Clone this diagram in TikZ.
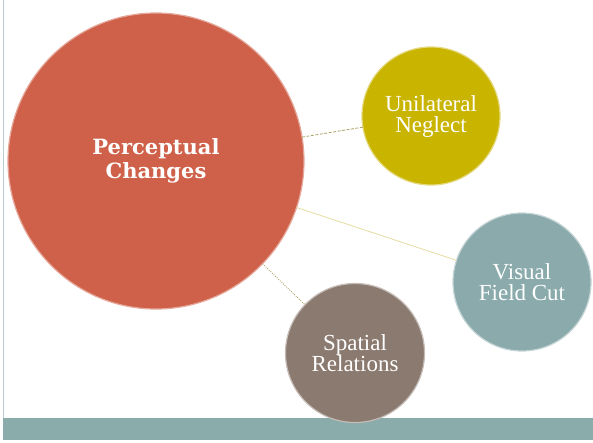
\documentclass[tikz,border=0pt]{standalone}
\usepackage{fontspec}
\setmainfont{Liberation Serif}
\newfontfamily\headfont{DejaVu Serif}
\definecolor{brick}{RGB}{207,96,73}
\definecolor{mustard}{RGB}{201,180,0}
\definecolor{slate}{RGB}{138,170,172}
\definecolor{taupe}{RGB}{139,122,111}
\definecolor{barteal}{RGB}{138,172,170}
\definecolor{olivedash}{RGB}{170,162,105}
\definecolor{paleline}{RGB}{228,220,160}

\begin{document}
\begin{tikzpicture}[x=1pt,y=-1pt,
	bubble/.style={circle, inner sep=0pt, outer sep=0pt, text=white, align=center, line width=1.2pt, font=\fontsize{23}{21}\selectfont},
	link/.style={line width=0.8pt}]
	\useasboundingbox (0,0) rectangle (593,442);
	% frame and floor
	\fill[barteal] (3,418) rectangle (593,440);
	\draw[slate!60, line width=0.8pt] (3,0) -- (3,418);
	\node (pc) at (156,161) [bubble, minimum size=296pt, fill=brick, draw=brick!55!white, font=\headfont\bfseries\fontsize{21}{24}\selectfont] {Perceptual\\Changes};
		\node (un) at (431,116) [bubble, minimum size=138pt, fill=mustard, draw=mustard!50!white] {Unilateral\\Neglect};
		\node (vf) at (522,282) [bubble, minimum size=138pt, fill=slate, draw=slate!50!white] {Visual\\Field Cut};
			\node (sr) at (355,353) [bubble, minimum size=139pt, fill=taupe, draw=taupe!50!white] {Spatial\\Relations};
	\draw[link, olivedash, dash pattern=on 3pt off 1.5pt] (pc) -- (un);
	\draw[link, paleline] (pc) -- (vf);
	\draw[link, olivedash, dash pattern=on 1pt off 1.2pt] (pc) -- (sr);
\end{tikzpicture}
\end{document}
